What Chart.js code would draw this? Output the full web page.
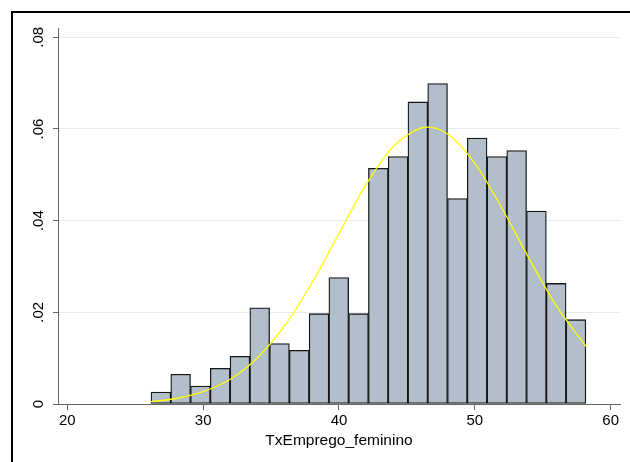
<!DOCTYPE html>
<html>
<head>
<meta charset="utf-8">
<script src="https://cdn.jsdelivr.net/npm/chart.js@4.4.1/dist/chart.umd.min.js"></script>
<style>
  html, body { margin: 0; padding: 0; background: #fff; }
  #wrap { position: relative; width: 630px; height: 462px; overflow: hidden; background: #fff; }
  #frame { position: absolute; left: 11px; top: 11px; width: 700px; height: 600px;
           border-left: 2px solid #000; border-top: 2px solid #000; }
  #caption { position: absolute; left: 12px; top: -20px; white-space: nowrap;
             font: bold 18px/18px "Liberation Serif", "Times New Roman", serif; color: #000; }
  canvas { position: absolute; left: 0; top: 0; }
</style>
</head>
<body>
<div id="wrap">
  <div id="caption">Figura 1 - Distribuição da Taxa de Emprego Feminino</div>
  <div id="frame"></div>
  <canvas id="histChart" width="630" height="462"></canvas>
</div>
<script>
// histogram bins (bin centres) and densities
const binCenters = [26.888, 28.343, 29.798, 31.253, 32.708, 34.163, 35.618, 37.073,
  38.528, 39.983, 41.438, 42.893, 44.348, 45.803, 47.258, 48.713, 50.168, 51.623,
  53.078, 54.533, 55.988, 57.443];
const density = [0.0026, 0.0065, 0.0039, 0.0078, 0.0104, 0.0210, 0.0132, 0.0117,
  0.0197, 0.0276, 0.0197, 0.0514, 0.0540, 0.0659, 0.0699, 0.0448, 0.0580, 0.0540,
  0.0553, 0.0421, 0.0263, 0.0184];

// yellow normal curve
const curveX = [26.16, 28, 30, 32, 34, 36, 38, 40, 42, 44, 46, 46.5, 48, 50, 52, 54, 56, 58.17];
const curveY = [0.0005, 0.0012, 0.0027, 0.0054, 0.0101, 0.0171, 0.0264, 0.0372, 0.0479,
  0.0562, 0.0602, 0.0604, 0.0589, 0.0525, 0.0427, 0.0317, 0.0214, 0.0126];

const xTicks = [20, 30, 40, 50, 60];
const yTicks = [0, 0.02, 0.04, 0.06, 0.08];
const yTickLabels = ["0", ".02", ".04", ".06", ".08"];
const xTitle = "TxEmprego_feminino";

const axisGray = "#666666";
const tickFont = { family: "Liberation Sans, Arial, sans-serif", size: 15 };

const ctx = document.getElementById("histChart").getContext("2d");

new Chart(ctx, {
  type: "bar",
  data: {
    datasets: [
      {
        type: "line",
        data: curveX.map((x, i) => ({ x: x, y: curveY[i] })),
        borderColor: "#ffff00",
        borderWidth: 1.3,
        pointRadius: 0,
        cubicInterpolationMode: "monotone",
        fill: false,
        order: 0,
      },
      {
        type: "bar",
        data: binCenters.map((x, i) => ({ x: x, y: density[i] })),
        backgroundColor: "#b2bec9",
        borderColor: "#161616",
        borderWidth: 1.3,
        borderSkipped: false,
        barPercentage: 1,
        categoryPercentage: 1,
        order: 1,
      },
    ],
  },
  options: {
    responsive: false,
    animation: false,
    events: [],
    layout: { padding: { left: 12, top: 28, right: 10, bottom: 0 } },
    plugins: {
      legend: { display: false },
      tooltip: { enabled: false },
    },
    scales: {
      x: {
        type: "linear",
        min: 19.315,
        max: 60.685,
        offset: false,
        afterBuildTicks: (scale) => {
          scale.ticks = xTicks.map((v) => ({ value: v }));
        },
        afterFit: (scale) => {
          scale.height = 58;
        },
        grid: {
          offset: false,
          drawOnChartArea: false,
          drawTicks: true,
          tickLength: 6,
          tickColor: axisGray,
        },
        border: { display: true, color: axisGray, width: 1 },
        ticks: {
          autoSkip: false,
          maxRotation: 0,
          padding: 2,
          color: "#000",
          font: tickFont,
          callback: (v) => String(v),
        },
        title: {
          display: true,
          text: xTitle,
          color: "#000",
          font: { family: "Liberation Sans, Arial, sans-serif", size: 15.5 },
          padding: { top: 0, bottom: 12 },
        },
      },
      y: {
        type: "linear",
        min: 0,
        max: 0.08203,
        afterBuildTicks: (scale) => {
          scale.ticks = yTicks.map((v) => ({ value: v }));
        },
        afterFit: (scale) => {
          scale.width = 46;
        },
        grid: {
          drawTicks: true,
          tickLength: 5,
          tickColor: axisGray,
          lineWidth: 1,
          color: (c) => (c.tick && c.tick.value === 0 ? "rgba(0,0,0,0)" : "#e4ecef"),
        },
        border: { display: true, color: axisGray, width: 1 },
        ticks: {
          autoSkip: false,
          minRotation: 90,
          maxRotation: 90,
          crossAlign: "center",
          padding: 4,
          color: "#000",
          font: tickFont,
          callback: (v, i) => yTickLabels[i],
        },
      },
    },
  },
});
</script>
</body>
</html>
